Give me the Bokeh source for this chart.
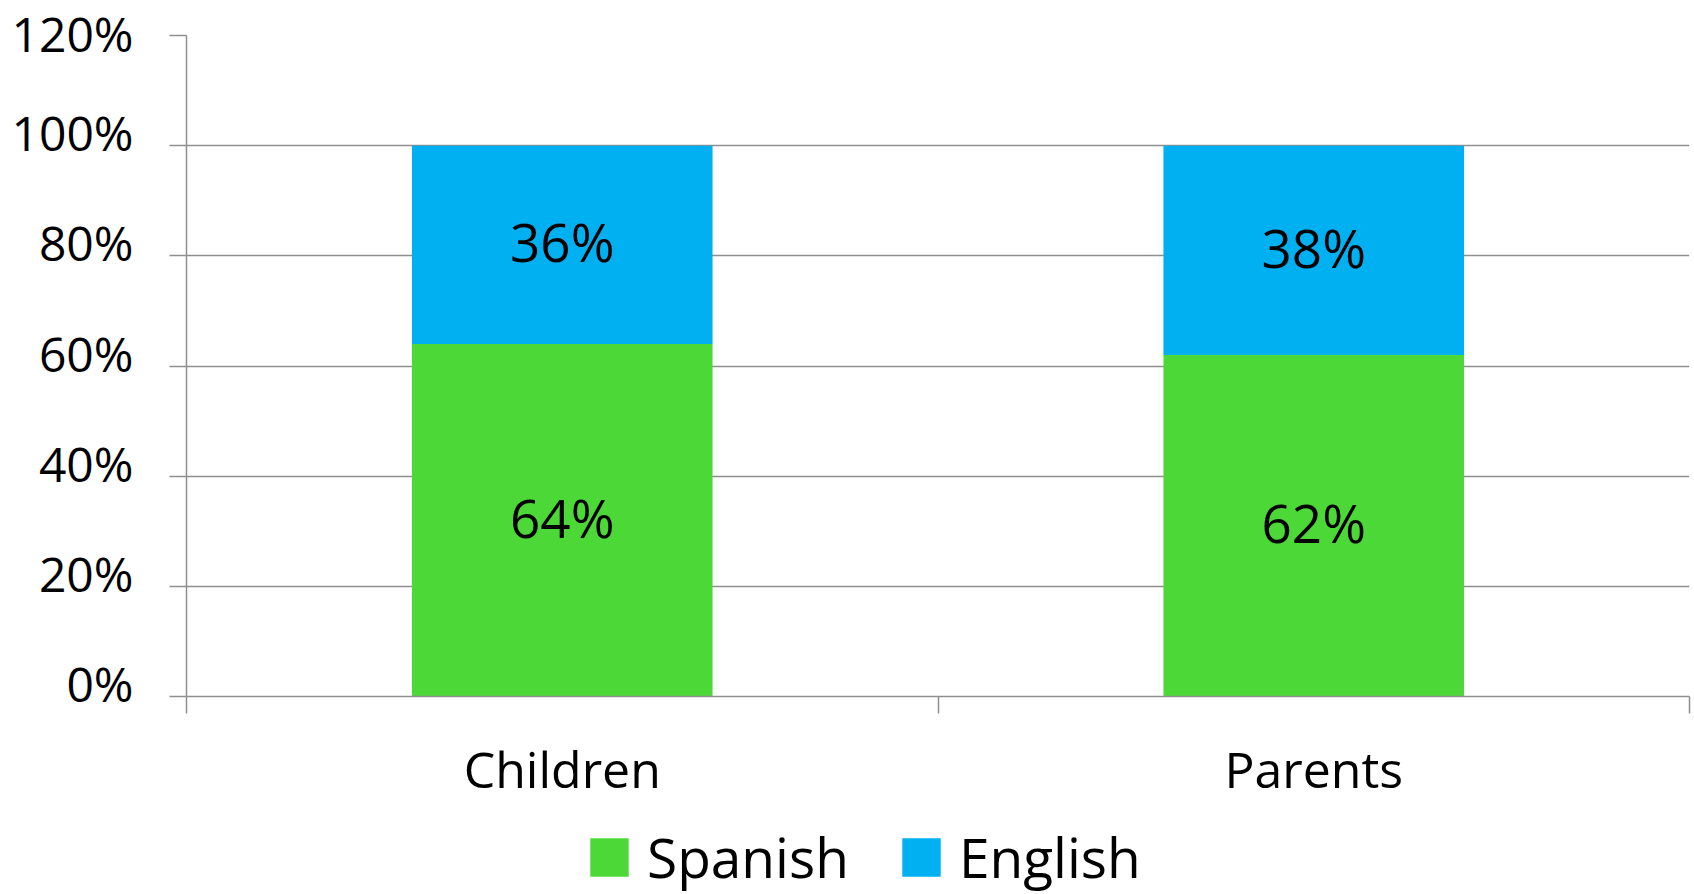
from bokeh.plotting import figure
from bokeh.layouts import column
from bokeh.models import (Range1d, FixedTicker, Legend, LegendItem,
                          ColumnDataSource)
from bokeh.embed import file_html
from bokeh.resources import INLINE
from bokeh.core.properties import value

categories = ["Children", "Parents"]
spanish = [0.64, 0.62]
english = [0.36, 0.38]
y_ticks = [0, 0.2, 0.4, 0.6, 0.8, 1.0, 1.2]
series = ["Spanish", "English"]

FONT = "Open Sans"
GREEN = "#4CD836"
BLUE = "#00B0F0"
GRAY = "#8E8E8E"
W = 1694
LEFT = 186
RIGHT = 5

xs = [i + 0.5 for i in range(len(categories))]
src = ColumnDataSource(dict(
    x=xs,
    spanish=spanish,
    english=english,
    sp_mid=[s / 2 for s in spanish],
    en_mid=[s + e / 2 for s, e in zip(spanish, english)],
    sp_lab=[f"{round(s * 100)}%" for s in spanish],
    en_lab=[f"{round(e * 100)}%" for e in english],
))

p = figure(width=W, height=806,
           x_range=Range1d(0, len(categories)), y_range=Range1d(0, 1.2),
           output_backend="svg", toolbar_location=None,
           min_border_left=LEFT, min_border_top=35, min_border_right=RIGHT,
           min_border_bottom=110)
p.outline_line_color = None
p.background_fill_color = "white"
p.border_fill_color = "white"

rs = p.vbar_stack(["spanish", "english"], x="x", width=0.4, color=[GREEN, BLUE],
                  line_color=None, source=src)

for ycol, tcol in (("sp_mid", "sp_lab"), ("en_mid", "en_lab")):
    p.text(x="x", y=ycol, text=tcol, source=src, text_align="center",
           text_baseline="middle", text_font=value(FONT), text_font_size="53px",
           text_color="black", y_offset=-3)

# y axis
ya = p.yaxis[0]
ya.ticker = FixedTicker(ticks=y_ticks)
ya.major_label_overrides = {t: f"{round(t * 100)}%\n" for t in y_ticks}
ya.major_label_text_line_height = 0.4
ya.major_tick_out = 17
ya.major_tick_in = 0
ya.minor_tick_line_color = None
ya.axis_line_color = GRAY
ya.axis_line_width = 1.5
ya.major_tick_line_color = GRAY
ya.major_tick_line_width = 1.5
ya.major_label_text_font = FONT
ya.major_label_text_font_size = "48px"
ya.major_label_text_color = "black"
ya.major_label_standoff = 36

p.ygrid.ticker = FixedTicker(ticks=y_ticks)
p.ygrid.grid_line_color = GRAY
p.ygrid.grid_line_width = 1.5
p.xgrid.visible = False

# x axis: labels at category centres, ticks at category boundaries
xa = p.xaxis[0]
xa.ticker = FixedTicker(ticks=xs, minor_ticks=list(range(len(categories) + 1)))
xa.major_label_overrides = {x: c for x, c in zip(xs, categories)}
xa.major_tick_line_color = None
xa.major_tick_out = 0
xa.major_tick_in = 0
xa.minor_tick_out = 17
xa.minor_tick_in = 0
xa.minor_tick_line_color = GRAY
xa.minor_tick_line_width = 1.5
xa.axis_line_color = GRAY
xa.axis_line_width = 1.5
xa.major_label_text_font = FONT
xa.major_label_text_font_size = "50px"
xa.major_label_text_color = "black"
xa.major_label_standoff = 21

# legend in its own strip below the chart (same data, drawn off-screen)
lf = figure(width=W, height=88, x_range=Range1d(10, 11), y_range=Range1d(10, 11),
            output_backend="svg", toolbar_location=None,
            min_border_left=LEFT, min_border_right=RIGHT, min_border_top=0,
            min_border_bottom=0)
lf.axis.visible = False
lf.grid.visible = False
lf.outline_line_color = None
lf.border_fill_color = "white"
lrs = lf.vbar_stack(["spanish", "english"], x="x", width=0.4,
                    color=[GREEN, BLUE], line_color=None, source=src)
legend = Legend(items=[LegendItem(label=s, renderers=[r]) for s, r in zip(series, lrs)],
                orientation="horizontal", location=(585 - LEFT, 0),
                glyph_width=48, glyph_height=48, label_standoff=14, spacing=48,
                padding=0, margin=0, border_line_color=None,
                background_fill_alpha=0,
                label_text_font=FONT, label_text_font_size="55px",
                label_text_color="black")
lf.add_layout(legend, "center")

layout = column(p, lf, spacing=0)
open("out.html", "w").write(file_html(layout, INLINE))
